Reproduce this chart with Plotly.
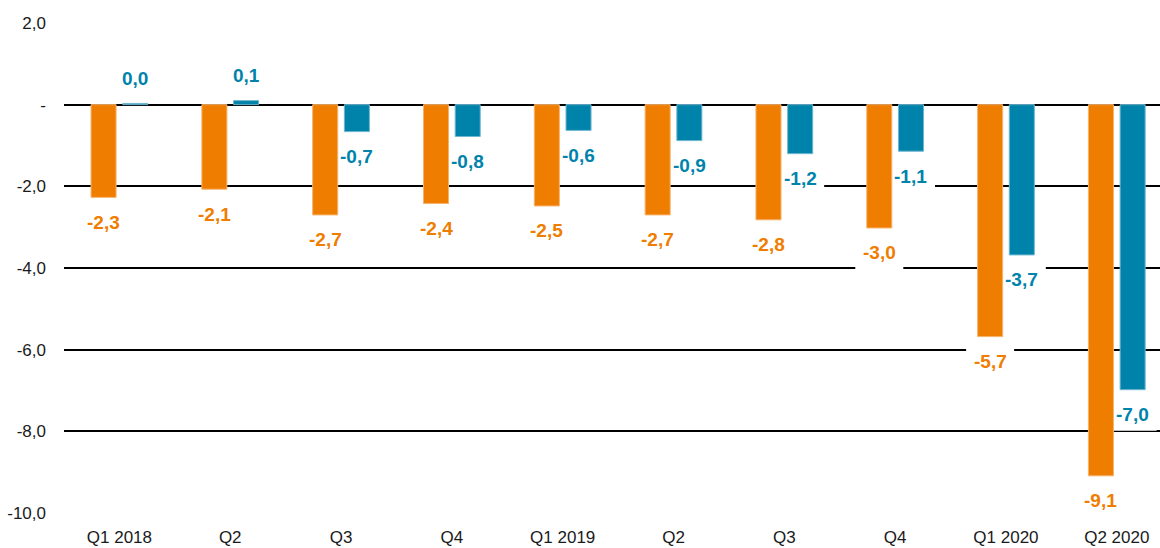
import plotly.graph_objects as go

quarters = ["Q1 2018", "Q2", "Q3", "Q4", "Q1 2019", "Q2", "Q3", "Q4", "Q1 2020", "Q2 2020"]
orange_vals = [-2.27, -2.07, -2.7, -2.42, -2.48, -2.7, -2.82, -3.02, -5.68, -9.09]
blue_vals = [0.03, 0.1, -0.66, -0.78, -0.63, -0.88, -1.2, -1.14, -3.68, -6.98]
orange_labels = [-2.3, -2.1, -2.7, -2.4, -2.5, -2.7, -2.8, -3.0, -5.7, -9.1]
blue_labels = [0.0, 0.1, -0.7, -0.8, -0.6, -0.9, -1.2, -1.1, -3.7, -7.0]
y_ticks = [2, 0, -2, -4, -6, -8, -10]
y_ticktext = ["2,0", "-", "-2,0", "-4,0", "-6,0", "-8,0", "-10,0"]

ORANGE = "#EF7D00"
BLUE = "#0083AB"
BARGAP = 0.428
GROUPGAP = 0.21

xs = list(range(len(quarters)))

fig = go.Figure()
fig.add_trace(go.Bar(x=xs, y=orange_vals, marker=dict(color=ORANGE, line=dict(color="#F6B26B", width=1)),
                     hoverinfo="skip"))
fig.add_trace(go.Bar(x=xs, y=blue_vals, marker=dict(color=BLUE, line=dict(color="#6FB6CF", width=1)),
                     hoverinfo="skip"))

def fmt(v):
    return f"{v:.1f}".replace(".", ",")

off = (1 - BARGAP) / 4
annotations = []
shapes = []
for series, labels, color, sign in [(orange_vals, orange_labels, ORANGE, -1), (blue_vals, blue_labels, BLUE, 1)]:
    for i, (v, lab) in enumerate(zip(series, labels)):
        shift = 25 if v >= 0 else -25
        xc = i + sign * off
        annotations.append(dict(
            x=xc, y=v, xref="x", yref="y", text=fmt(lab), showarrow=False,
            yshift=shift, yanchor="middle", xanchor="center",
            font=dict(family="Liberation Sans, Arial", size=19, color=color, weight="bold"),
        ))
        # white box behind label (between gridlines and bars)
        shapes.append(dict(
            type="rect", layer="between", xref="x", yref="y",
            xsizemode="pixel", ysizemode="pixel", xanchor=xc, yanchor=v,
            x0=-24, x1=24, y0=shift - 16, y1=shift + 16,
            fillcolor="white", line=dict(width=0),
        ))

fig.update_layout(
    width=1160, height=548,
    margin=dict(l=64, r=0, t=23, b=35),
    paper_bgcolor="white", plot_bgcolor="white",
    barmode="group", bargap=BARGAP, bargroupgap=GROUPGAP,
    showlegend=False,
    annotations=annotations,
    shapes=shapes,
    font=dict(family="Liberation Sans, Arial", size=17, color="#1a1a1a"),
)
fig.update_xaxes(
    tickmode="array", tickvals=xs, ticktext=quarters, range=[-0.5, 9.39],
    showgrid=False, zeroline=False, showline=False, ticks="", ticklabelstandoff=12,
    tickfont=dict(size=17, color="#1a1a1a"),
)
fig.update_yaxes(
    tickmode="array", tickvals=y_ticks, ticktext=y_ticktext, range=[-10, 2],
    showgrid=True, gridcolor="black", gridwidth=2,
    zeroline=True, zerolinecolor="black", zerolinewidth=2,
    showline=False, ticks="", ticklabelstandoff=17,
    tickfont=dict(size=17, color="#1a1a1a"),
)

fig.write_html("out.html", config={"displayModeBar": False},
               post_script="document.body.style.margin='0';")
